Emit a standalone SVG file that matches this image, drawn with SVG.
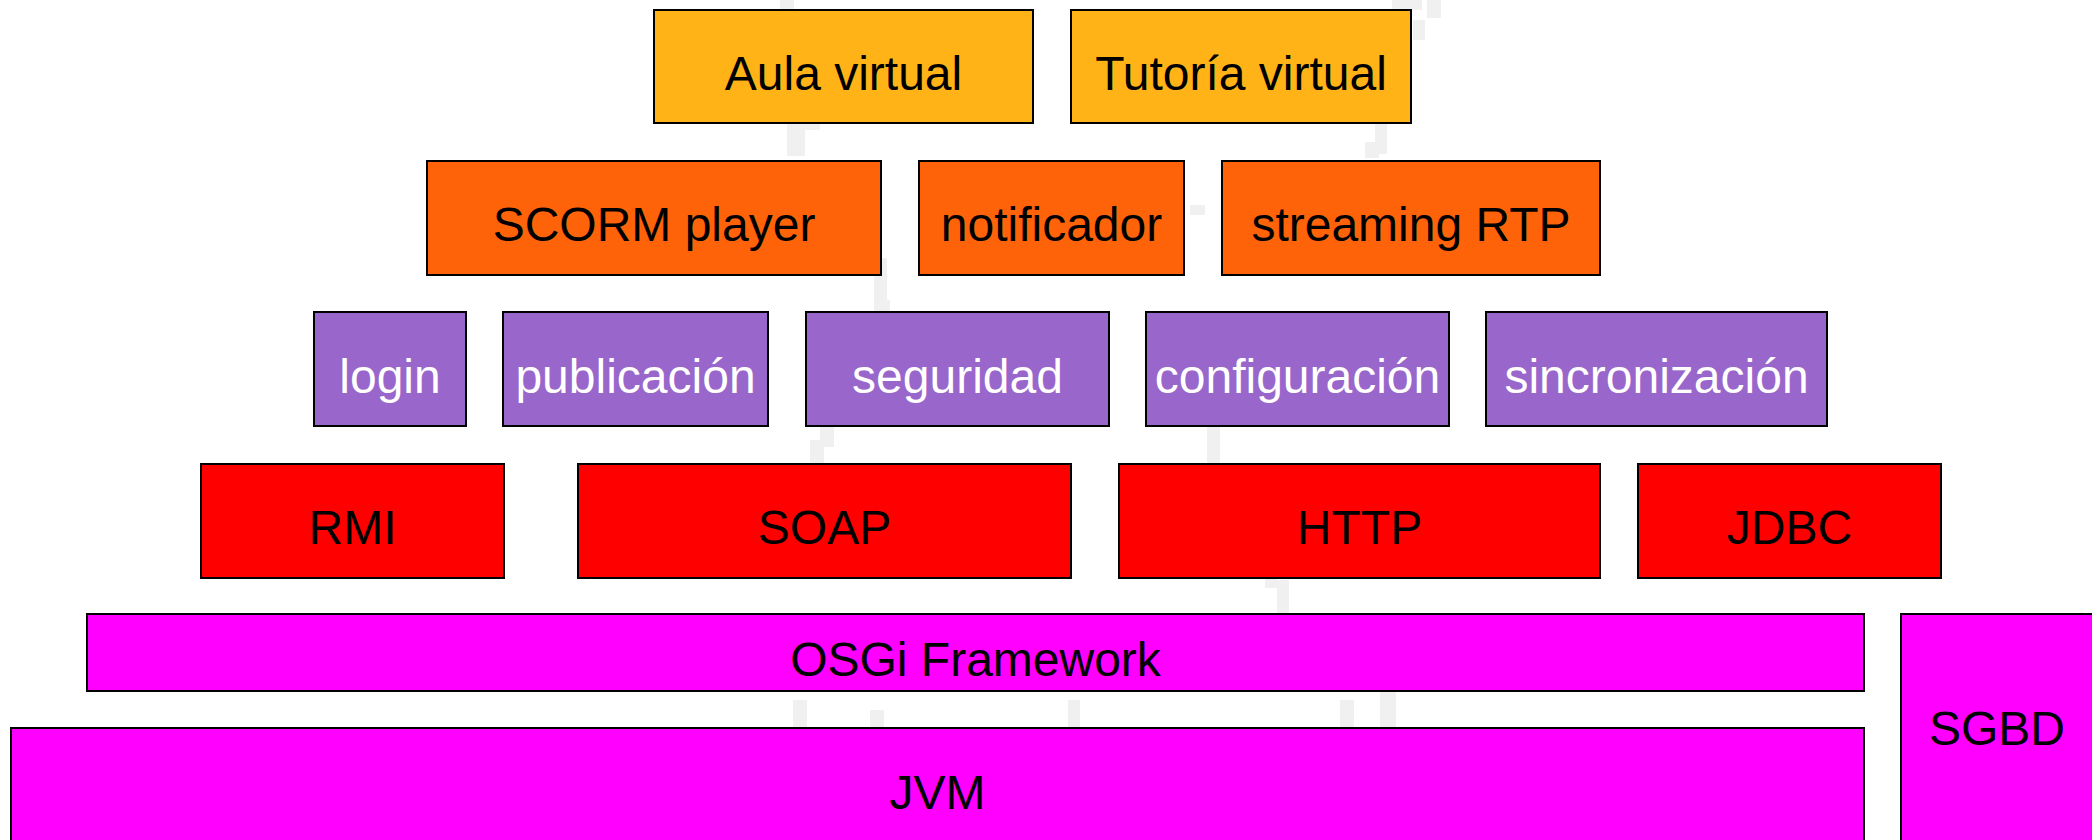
<svg xmlns="http://www.w3.org/2000/svg" width="2092" height="840" viewBox="0 0 2092 840">
  <style>
    .box { stroke: #000; stroke-width: 2; }
    .l1 { fill: #FFB317; }
    .l2 { fill: #FF630A; }
    .l3 { fill: #9966CC; }
    .l4 { fill: #FF0000; }
    .l5 { fill: #FF00FF; }
    .lbl { font-family: "Liberation Sans", Arial, sans-serif; font-size: 48px; text-anchor: middle; fill: #000; }
    .inv { fill: #FFFFFF; }
    .wm { fill: #F0F0F0; }
  </style>

  <rect width="2092" height="840" fill="#FFFFFF"/>

  <!-- faint background pattern -->
  <g id="background">
    <rect class="wm" x="787" y="118" width="18" height="38"/>
    <rect class="wm" x="800" y="120" width="20" height="10"/>
    <rect class="wm" x="874" y="258" width="13" height="62"/>
    <rect class="wm" x="880" y="300" width="10" height="20"/>
    <rect class="wm" x="820" y="427" width="14" height="20"/>
    <rect class="wm" x="810" y="440" width="14" height="28"/>
    <rect class="wm" x="1207" y="427" width="13" height="36"/>
    <rect class="wm" x="1262" y="630" width="14" height="12"/>
    <rect class="wm" x="1265" y="568" width="12" height="20"/>
    <rect class="wm" x="1277" y="580" width="12" height="35"/>
    <rect class="wm" x="1427" y="0" width="14" height="18"/>
    <rect class="wm" x="1413" y="20" width="12" height="20"/>
    <rect class="wm" x="1375" y="124" width="12" height="30"/>
    <rect class="wm" x="1365" y="142" width="14" height="16"/>
    <rect class="wm" x="1392" y="0" width="30" height="10"/>
    <rect class="wm" x="1190" y="205" width="15" height="10"/>
    <rect class="wm" x="1340" y="700" width="14" height="28"/>
    <rect class="wm" x="1380" y="690" width="16" height="38"/>
    <rect class="wm" x="793" y="700" width="14" height="28"/>
    <rect class="wm" x="870" y="710" width="14" height="18"/>
    <rect class="wm" x="1068" y="700" width="12" height="28"/>
    <rect class="wm" x="780" y="0" width="14" height="10"/>
  </g>

  <!-- application layer -->
  <g id="aula-virtual">
    <rect class="box l1" x="654" y="10" width="379" height="113"/>
    <text class="lbl" x="843.5" y="90">Aula virtual</text>
  </g>
  <g id="tutoria-virtual">
    <rect class="box l1" x="1071" y="10" width="340" height="113"/>
    <text class="lbl" x="1241" y="90">Tutoría virtual</text>
  </g>

  <!-- services layer -->
  <g id="scorm-player">
    <rect class="box l2" x="427" y="161" width="454" height="114"/>
    <text class="lbl" x="654" y="241">SCORM player</text>
  </g>
  <g id="notificador">
    <rect class="box l2" x="919" y="161" width="265" height="114"/>
    <text class="lbl" x="1051.5" y="241">notificador</text>
  </g>
  <g id="streaming-rtp">
    <rect class="box l2" x="1222" y="161" width="378" height="114"/>
    <text class="lbl" x="1411" y="241">streaming RTP</text>
  </g>

  <!-- core bundles -->
  <g id="login">
    <rect class="box l3" x="314" y="312" width="152" height="114"/>
    <text class="lbl inv" x="390" y="393">login</text>
  </g>
  <g id="publicacion">
    <rect class="box l3" x="503" y="312" width="265" height="114"/>
    <text class="lbl inv" x="635.5" y="393">publicación</text>
  </g>
  <g id="seguridad">
    <rect class="box l3" x="806" y="312" width="303" height="114"/>
    <text class="lbl inv" x="957.5" y="393">seguridad</text>
  </g>
  <g id="configuracion">
    <rect class="box l3" x="1146" y="312" width="303" height="114"/>
    <text class="lbl inv" x="1297.5" y="393">configuración</text>
  </g>
  <g id="sincronizacion">
    <rect class="box l3" x="1486" y="312" width="341" height="114"/>
    <text class="lbl inv" x="1656.5" y="393">sincronización</text>
  </g>

  <!-- protocols -->
  <g id="rmi">
    <rect class="box l4" x="201" y="464" width="303" height="114"/>
    <text class="lbl" x="352.5" y="544">RMI</text>
  </g>
  <g id="soap">
    <rect class="box l4" x="578" y="464" width="493" height="114"/>
    <text class="lbl" x="824.5" y="544">SOAP</text>
  </g>
  <g id="http">
    <rect class="box l4" x="1119" y="464" width="481" height="114"/>
    <text class="lbl" x="1359.5" y="544">HTTP</text>
  </g>
  <g id="jdbc">
    <rect class="box l4" x="1638" y="464" width="303" height="114"/>
    <text class="lbl" x="1789.5" y="544">JDBC</text>
  </g>

  <!-- platform -->
  <g id="osgi-framework">
    <rect class="box l5" x="87" y="614" width="1777" height="77"/>
    <text class="lbl" x="975.5" y="676">OSGi Framework</text>
  </g>
  <g id="jvm">
    <rect class="box l5" x="11" y="728" width="1853" height="130"/>
    <text class="lbl" x="937.5" y="809">JVM</text>
  </g>
  <g id="sgbd">
    <rect class="box l5" x="1901" y="614" width="210" height="250"/>
    <text class="lbl" x="1997" y="745">SGBD</text>
  </g>

  <g id="connectors"/>
</svg>
